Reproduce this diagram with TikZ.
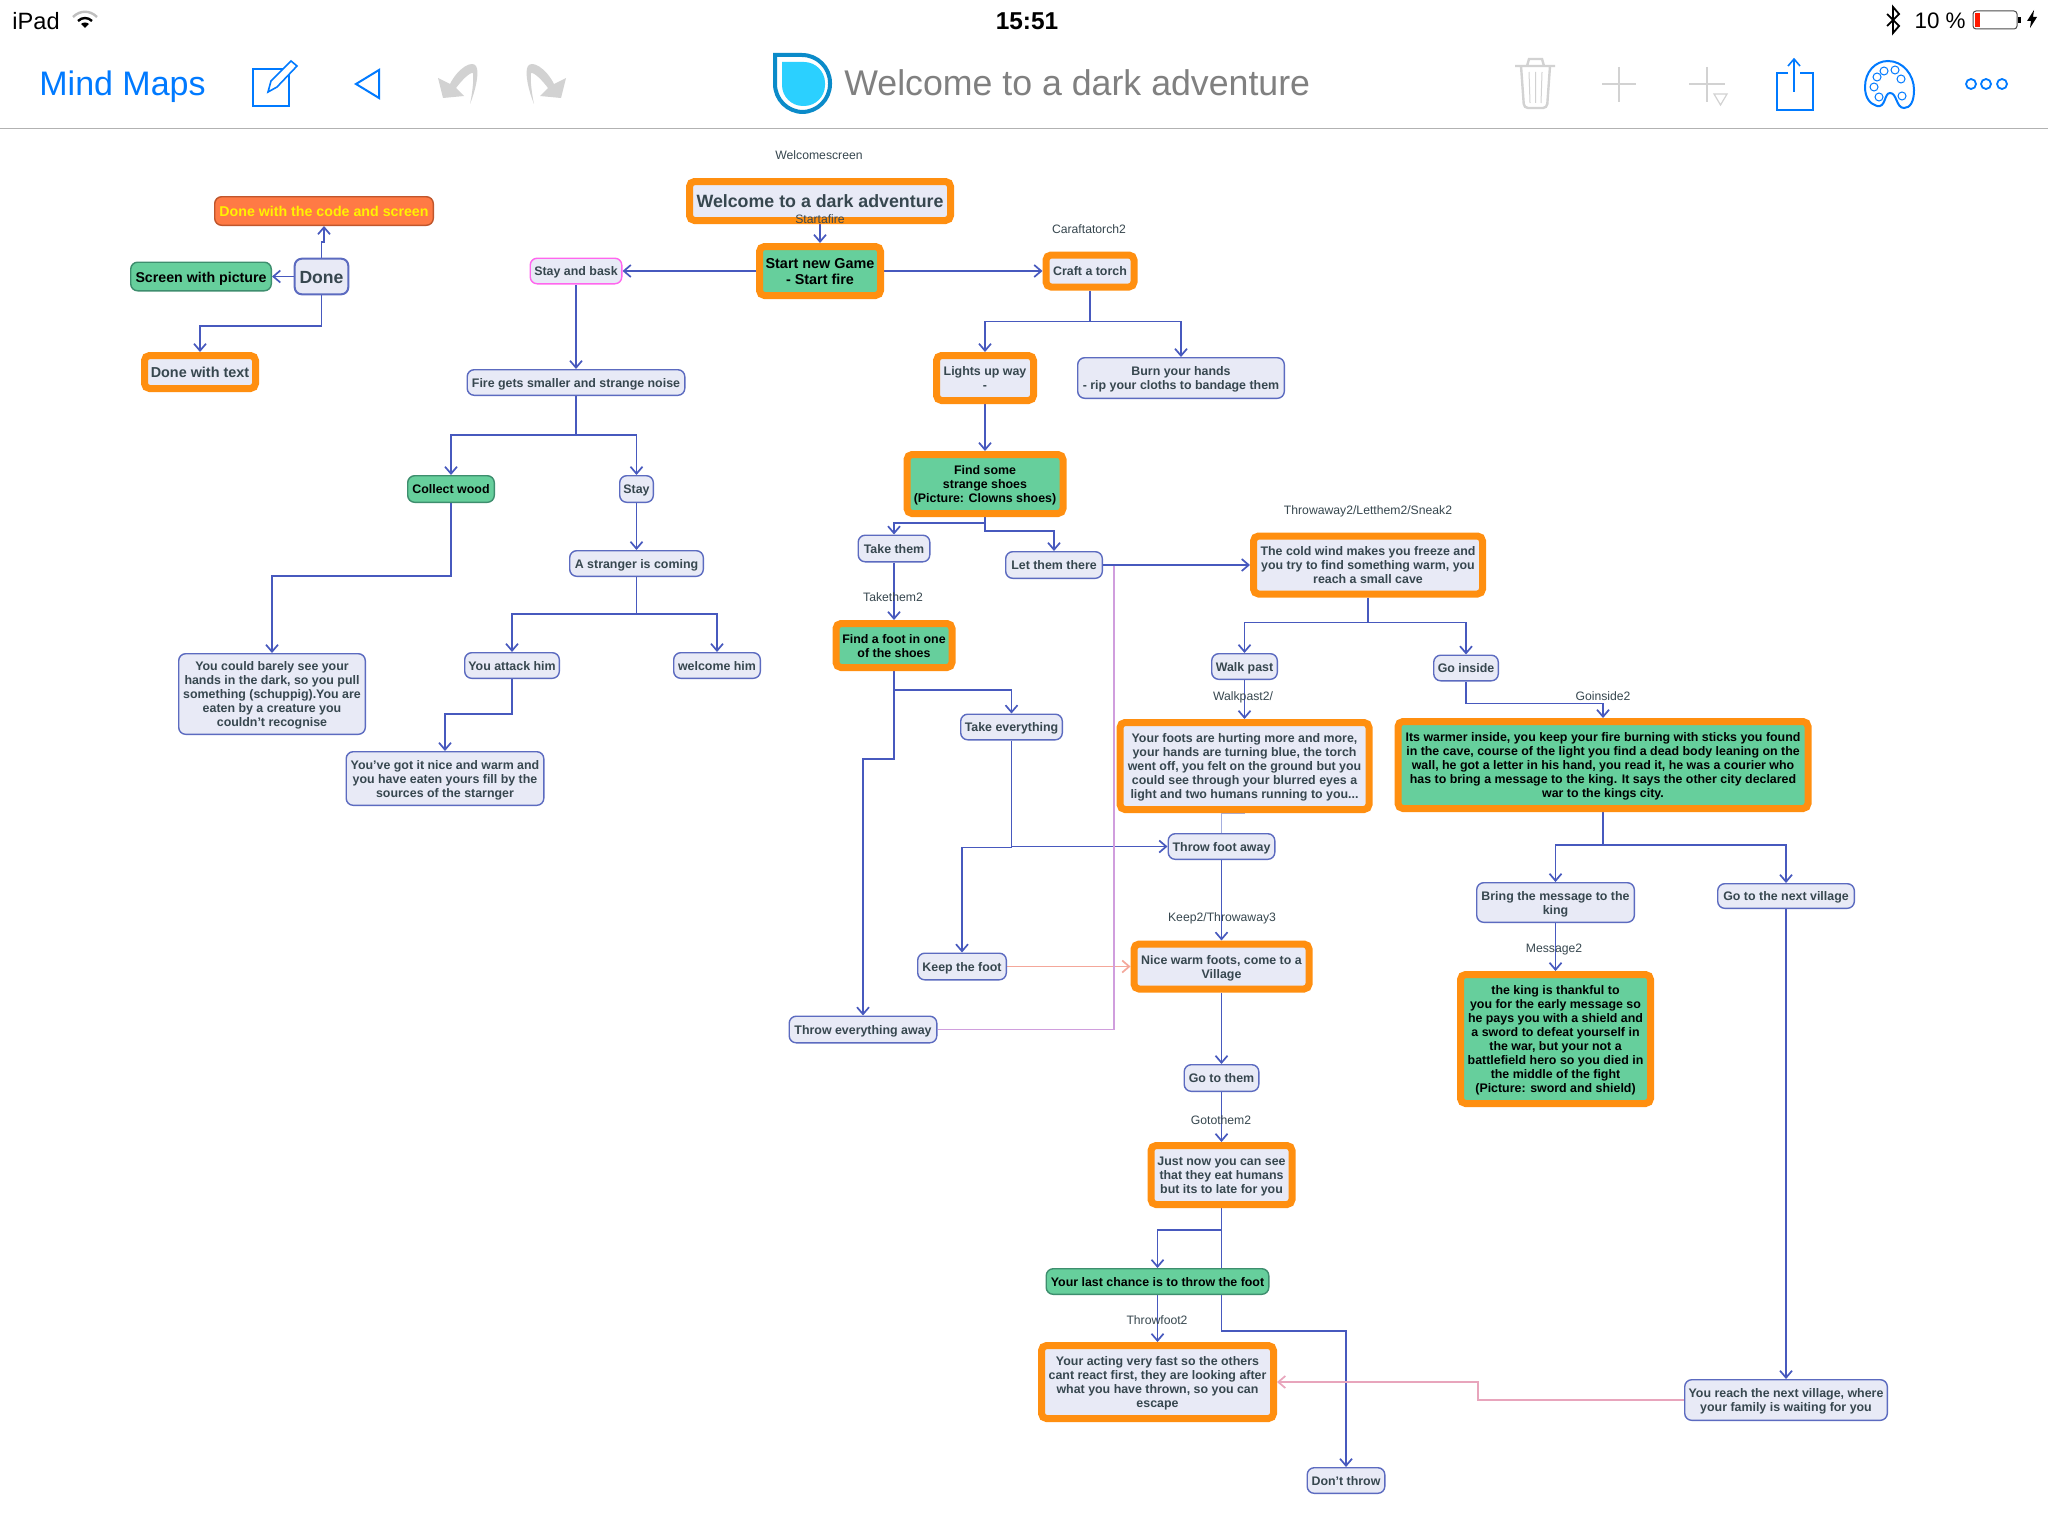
\documentclass[tikz,border=0pt]{standalone}
\usepackage{fontspec}
\setmainfont{Liberation Sans}
\usetikzlibrary{arrows.meta,backgrounds}

\definecolor{nodefill}{HTML}{E8EAF6}
\definecolor{nodeline}{HTML}{5C6BC0}
\definecolor{nodetext}{HTML}{37474F}
\definecolor{linkblue}{HTML}{4759BE}
\definecolor{keyorange}{HTML}{FF8F10}
\definecolor{sheetgreen}{HTML}{66CF9C}
\definecolor{sheetedge}{HTML}{3E8E6E}
\definecolor{iosblue}{HTML}{007AFF}
\definecolor{offgray}{HTML}{D2D2D2}
\definecolor{softsalmon}{HTML}{F4A79A}
\definecolor{softpurple}{HTML}{D09EDD}
\definecolor{softrose}{HTML}{E8A5BC}
\definecolor{softblue}{HTML}{A5AEDF}
\definecolor{logoblue}{HTML}{0B8BC9}
\definecolor{logocyan}{HTML}{2BD0FF}
\definecolor{codeorange}{HTML}{FF7A45}
\definecolor{codeedge}{HTML}{C0562C}
\definecolor{baskedge}{HTML}{FF66EE}

\newcommand{\boxfont}{\fontsize{6.2}{7}\selectfont\bfseries}
\newcommand{\undoshape}{(438,78) -- (443,98) -- (464,96) -- (456,88) .. controls (462,80) and (470,72) .. (473,73) .. controls (474,80) and (472,95) .. (470,104) .. controls (475,92) and (480,72) .. (476,66) .. controls (472,60) and (458,68) .. (450,84) -- cycle}

\tikzset{
  linebox/.style={text depth=-.6pt,execute at begin node={\rule{0pt}{.78em}}},
  mapnode/.style 2 args={linebox,draw=nodeline,fill=nodefill,text=nodetext,line width=.7pt,rounded corners=3.5pt,
    align=center,inner sep=0pt,font=\boxfont,minimum width=#1*.5pt-.7pt,minimum height=#2*.5pt-.7pt},
  keynode/.style 2 args={linebox,draw=keyorange,fill=nodefill,text=nodetext,line width=3.5pt,rounded corners=2.5pt,
    align=center,inner sep=0pt,font=\boxfont,minimum width=#1*.5pt-3.5pt,minimum height=#2*.5pt-3.5pt},
  sheetnode/.style 2 args={mapnode={#1}{#2},draw=sheetedge,fill=sheetgreen,text=black},
  keysheet/.style 2 args={keynode={#1}{#2},fill=sheetgreen,text=black},
  tag/.style={text=nodetext,font=\fontsize{6.1}{7}\selectfont,inner sep=0pt},
  link/.style={draw=linkblue,line width=.85pt,-{Straight Barb[length=3.5pt,width=6pt]}},
  softlink/.style={draw=#1,line width=.85pt,-{Straight Barb[length=3.5pt,width=6pt]}},
  softline/.style={draw=#1,line width=.85pt},
  icon/.style={draw=iosblue,line width=1pt},
  officon/.style={draw=offgray,line width=1.2pt}
}

\begin{document}
\begin{tikzpicture}[x=.5pt,y=-.5pt]
\useasboundingbox (0,0) rectangle (2048,1536);
\begin{pgfonlayer}{background}
\fill[white] (0,0) rectangle (2048,1536);
\end{pgfonlayer}

% status bar
\node[anchor=west,inner sep=0pt,font=\fontsize{11.8}{13}\selectfont] (ipad) at (12,21) {iPad};
\node[inner sep=0pt,font=\fontsize{12.2}{14}\selectfont\bfseries] (clock) at (1027,21) {15:51};
\node[anchor=east,inner sep=0pt,font=\fontsize{11.2}{13}\selectfont] (level) at (1966,21) {10 \%};
\draw[gray!50,line width=1.2pt] (73,17) .. controls (80,10) and (90,10) .. (97,17);
\draw[black,line width=1.2pt] (78,21) .. controls (82,17) and (88,17) .. (92,21);
\fill[black] (85,28) -- (81,24) .. controls (83,22) and (87,22) .. (89,24) -- cycle;
\draw[black,line width=.9pt] (1887,14) -- (1899,26) -- (1893,33) -- (1893,7) -- (1899,14) -- (1887,26);
\draw[black!70,line width=.5pt,rounded corners=1.5pt] (1973,11) rectangle (2017,29);
\fill[red!80!orange] (1974.5,13) rectangle (1979.5,27);
\fill[black] (2018,17) rectangle (2021,23);
\fill[black] (2034,10) -- (2027,21) -- (2031,21) -- (2030,28) -- (2037,17) -- (2033,17) -- cycle;

% tool bar
\node[anchor=west,inner sep=0pt,text=iosblue,font=\fontsize{17}{20}\selectfont] (back) at (39,87) {Mind Maps};
\draw[icon] (252.5,69.5) rectangle (288.5,106.5);
\draw[icon,fill=white,line width=.8pt] (268,92) -- (271,81) -- (291,61) -- (297,66) -- (277,87) -- cycle;
\draw[icon] (379,70) -- (356,84) -- (379,98) -- cycle;
\fill[offgray] \undoshape;
\begin{scope}[xscale=-1,shift={(-1004,0)}]
\fill[offgray] \undoshape;
\end{scope}
\path[draw=logoblue,fill=white,line width=2pt] (775,55) [rounded corners=14pt] -- (830,55) -- (830,112) -- (775,112) [sharp corners] -- cycle;
\path[fill=logocyan] (782,62) [rounded corners=10.5pt] -- (825,62) -- (825,106) -- (782,106) [sharp corners] -- cycle;
\node[anchor=west,inner sep=0pt,text=black!50,font=\fontsize{17.85}{22}\selectfont] (title) at (844,83) {Welcome to a dark adventure};
\draw[officon] (1515,66) -- (1555,66) (1527,66) -- (1529,59) -- (1542,59) -- (1544,66);
\draw[officon,rounded corners=2pt] (1521,66) -- (1524,108) -- (1547,108) -- (1550,66);
\draw[offgray,line width=.5pt] (1529,72) -- (1530,103) (1535.5,72) -- (1535.5,103) (1542,72) -- (1541,103);
\draw[officon] (1602,84) -- (1636,84) (1619,67) -- (1619,102);
\draw[officon] (1689,84) -- (1725,84) (1707,67) -- (1707,102);
\draw[offgray,line width=.6pt] (1714,94) -- (1727,94) -- (1720.5,105) -- cycle;
\draw[icon] (1788,73) -- (1776.5,73) -- (1776.5,110) -- (1813,110) -- (1813,73) -- (1800,73);
\draw[iosblue,line width=.8pt] (1794,92) -- (1794,60) (1788,66) -- (1794,59) -- (1800,66);
\draw[icon] (1888,61) .. controls (1903,61) and (1914,75) .. (1914,90) .. controls (1914,102) and (1910,108) .. (1904,108) .. controls (1896,108) and (1897,93) .. (1890,93) .. controls (1884,93) and (1886,108) .. (1877,106) .. controls (1870,104) and (1865,98) .. (1865,87) .. controls (1865,72) and (1875,61) .. (1888,61) -- cycle;
\foreach \px/\py in {1879/97,1874/87,1877/77,1884/71,1895/70,1901/79,1902/96}
  \draw[iosblue,line width=.5pt] (\px,\py) circle[radius=2pt];
\foreach \px in {1971,1986,2002}
  \draw[iosblue,line width=.9pt] (\px,84) circle[radius=2.5pt];
\draw[black!30,line width=.7pt] (0,128.5) -- (2048,128.5);

% left branch
\node[mapnode={220}{30},draw=codeedge,fill=codeorange,text=yellow,font=\fontsize{7.1}{8}\selectfont\bfseries] (doneCode) at (324,211) {Done with the code and screen};
\node[sheetnode={142}{30},font=\fontsize{7.1}{8}\selectfont\bfseries] (donePic) at (201,276.5) {Screen with picture};
\node[mapnode={55}{37},line width=1pt,font=\fontsize{8.8}{10}\selectfont\bfseries] (done) at (321.5,276.5) {Done};
\node[keynode={118}{40},font=\fontsize{7.2}{8}\selectfont\bfseries] (doneText) at (200,372) {Done with text};
\node[mapnode={93}{27},draw=baskedge] (bask) at (576,271) {Stay and bask};
\node[mapnode={219}{27}] (fire) at (576,382.5) {Fire gets smaller and strange noise};
\node[sheetnode={88}{28}] (wood) at (451,489) {Collect wood};
\node[mapnode={35}{28}] (stay) at (636.5,489) {Stay};
\node[mapnode={135}{27}] (stranger) at (636.5,563.5) {A stranger is coming};
\node[mapnode={188}{82}] (barely) at (272,694) {You could barely see your\\hands in the dark, so you pull\\something (schuppig).You are\\eaten by a creature you\\couldn't recognise};
\node[mapnode={96}{27}] (attack) at (512,665.5) {You attack him};
\node[mapnode={88}{27}] (greet) at (717,665.5) {welcome him};
\node[mapnode={199}{55}] (warm) at (445,778.5) {You've got it nice and warm and\\you have eaten yours fill by the\\sources of the starnger};

% middle branch
\node[keynode={268}{46},font=\fontsize{8.9}{11}\selectfont\bfseries] (welcome) at (820,201) {Welcome to a dark adventure};
\node[tag] (tagWelcome) at (819,155) {Welcomescreen};
\node[tag] (tagStart) at (820,219) {Startafire};
\node[keysheet={128}{56},font=\fontsize{7.2}{8}\selectfont\bfseries] (start) at (820,271) {Start new Game\\- Start fire};
\node[keynode={95}{39}] (torch) at (1090,271) {Craft a torch};
\node[tag] (tagTorch) at (1089,229) {Caraftatorch2};
\node[keynode={104}{52}] (lights) at (985,378) {Lights up way\\-};
\node[mapnode={208}{42}] (burn) at (1181,378) {Burn your hands\\- rip your cloths to bandage them};
\node[keysheet={163}{66}] (shoes) at (985,484) {Find some\\strange shoes\\(Picture: Clowns shoes)};
\node[mapnode={73}{28}] (takeThem) at (894,548.5) {Take them};
\node[mapnode={98}{28}] (letThem) at (1054,565) {Let them there};
\node[tag] (tagTake) at (893,597) {Takethem2};
\node[keysheet={123}{51}] (foot) at (894,645.5) {Find a foot in one\\of the shoes};
\node[mapnode={103}{27}] (takeAll) at (1011.5,727) {Take everything};
\node[mapnode={90}{28}] (keepFoot) at (962,966.5) {Keep the foot};
\node[mapnode={149}{28}] (throwAll) at (863,1029.5) {Throw everything away};

% right branch
\node[tag] (tagCold) at (1368,511) {Throwaway2/Letthem2/Sneak2};
\node[keynode={236}{65}] (cold) at (1368,565) {The cold wind makes you freeze and\\you try to find something warm, you\\reach a small cave};
\node[mapnode={67}{27}] (walk) at (1244.5,666.5) {Walk past};
\node[mapnode={66}{27}] (inside) at (1466,668) {Go inside};
\node[tag] (tagWalk) at (1243,697) {Walkpast2/};
\node[tag] (tagInside) at (1603,696) {Goinside2};
\node[keynode={256}{94}] (foots) at (1244.5,766) {Your foots are hurting more and more,\\your hands are turning blue, the torch\\went off, you felt on the ground but you\\could see through your blurred eyes a\\light and two humans running to you...};
\node[keysheet={417}{94}] (cave) at (1603,765) {Its warmer inside, you keep your fire burning with sticks you found\\in the cave, course of the light you find a dead body leaning on the\\wall, he got a letter in his hand, you read it, he was a courier who\\has to bring a message to the king. It says the other city declared\\war to the kings city.};
\node[mapnode={108}{27}] (throwFoot) at (1221.5,846.5) {Throw foot away};
\node[tag] (tagKeep) at (1222,918) {Keep2/Throwaway3};
\node[keynode={182}{52}] (village) at (1221.5,966.5) {Nice warm foots, come to a\\Village};
\node[mapnode={159}{41}] (message) at (1555.5,902.5) {Bring the message to the\\king};
\node[mapnode={138}{26}] (nextVillage) at (1786,896) {Go to the next village};
\node[tag] (tagMessage) at (1554,949) {Message2};
\node[keysheet={197}{136}] (king) at (1555.5,1039) {the king is thankful to\\you for the early message so\\he pays you with a shield and\\a sword to defeat yourself in\\the war, but your not a\\battlefield hero so you died in\\the middle of the fight\\(Picture: sword and shield)};
\node[mapnode={76}{28}] (goThem) at (1221.5,1078) {Go to them};
\node[tag] (tagGo) at (1221,1120) {Gotothem2};
\node[keynode={148}{66}] (humans) at (1221.5,1175) {Just now you can see\\that they eat humans\\but its to late for you};
\node[sheetnode={224}{27}] (chance) at (1157.5,1281.5) {Your last chance is to throw the foot};
\node[tag] (tagFoot) at (1157,1320) {Throwfoot2};
\node[keynode={239}{80}] (acting) at (1157.5,1382) {Your acting very fast so the others\\cant react first, they are looking after\\what you have thrown, so you can\\escape};
\node[mapnode={79}{27}] (dontThrow) at (1346,1480.5) {Don't throw};
\node[mapnode={204}{42}] (reach) at (1786,1400) {You reach the next village, where\\your family is waiting for you};
\coordinate (sneak) at (1114,565);

\begin{pgfonlayer}{background}
\draw[link] (done.north) -- ++(0,-16) -| (doneCode.south);
\draw[link] (done.west) -- (donePic.east);
\draw[link] (done.south) -- ++(0,31) -| (doneText.north);
\draw[link] (bask.south) -- (fire.north);
\draw[link] (fire.south) -- ++(0,39) -| (wood.north);
\draw[link] (fire.south) -- ++(0,39) -| (stay.north);
\draw[link] (stay.south) -- (stranger.north);
\draw[link] (wood.south) -- ++(0,73) -| (barely.north);
\draw[link] (stranger.south) -- ++(0,37) -| (attack.north);
\draw[link] (stranger.south) -- ++(0,37) -| (greet.north);
\draw[link] (attack.south) -- ++(0,35) -| (warm.north);
\draw[link] (welcome.south) -- (start.north);
\draw[link] (start.west) -- (bask.east);
\draw[link] (start.east) -- (torch.west);
\draw[link] (torch.south) -- ++(0,31) -| (lights.north);
\draw[link] (torch.south) -- ++(0,31) -| (burn.north);
\draw[link] (lights.south) -- (shoes.north);
\draw[link] (shoes.south) -- ++(0,6) -| (takeThem.north);
\draw[link] (shoes.south) -- ++(0,14) -| (letThem.north);
\draw[link] (takeThem.south) -- (foot.north);
\draw[link] (foot.south) -- ++(0,19) -| (takeAll.north);
\draw[link] (foot.south) -- ++(0,88) -| (throwAll.north);
\draw[link] (takeAll.south) |- (throwFoot.west);
\draw[link] (takeAll.south) -- ++(0,107) -| (keepFoot.north);
\draw[softlink=softsalmon] (keepFoot.east) -- (village.west);
\draw[softline=softpurple] (throwAll.east) -| (sneak);
\draw[link] (letThem.east) -- (cold.west);
\draw[link] (cold.south) -- ++(0,25) -| (walk.north);
\draw[link] (cold.south) -- ++(0,25) -| (inside.north);
\draw[link] (walk.south) -- (foots.north);
\draw[link] (inside.south) -- ++(0,22) -| (cave.north);
\draw[softline=softblue] (foots.south) -| (throwFoot.north);
\draw[link] (throwFoot.south) -- (village.north);
\draw[link] (cave.south) -- ++(0,33) -| (message.north);
\draw[link] (cave.south) -- ++(0,33) -| (nextVillage.north);
\draw[link] (message.south) -- (king.north);
\draw[link] (nextVillage.south) -- (reach.north);
\draw[link] (village.south) -- (goThem.north);
\draw[link] (goThem.south) -- (humans.north);
\draw[link] (humans.south) -- ++(0,22) -| (chance.north);
\draw[link] (humans.south) -- ++(0,123) -| (dontThrow.north);
\draw[link] (chance.south) -- (acting.north);
\draw[softlink=softrose] (reach.west) -- ++(-206,0) |- (acting.east);
\end{pgfonlayer}
\end{tikzpicture}
\end{document}
